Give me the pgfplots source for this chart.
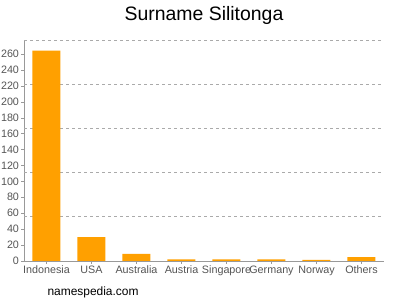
\documentclass[border=0pt]{standalone}
\usepackage{pgfplots}
\pgfplotsset{compat=1.18}
\usepackage{fontspec}
\setmainfont{Liberation Sans}
\definecolor{barorange}{HTML}{FFA000}
\definecolor{axgray}{HTML}{999999}
\definecolor{gridgray}{HTML}{AAAAAA}
\definecolor{lblgray}{HTML}{555555}
\begin{document}
\begin{tikzpicture}[x=1bp,y=1bp]
\path[use as bounding box] (0,0) rectangle (400,300);
\begin{axis}[
  at={(24bp,39bp)}, anchor=south west,
  scale only axis, width=360bp, height=221bp,
  xmin=-0.5, xmax=7.5, ymin=0, ymax=277.5,
  axis x line*=bottom, axis y line*=left,
  axis line style={axgray},
  xtick=data,
  xticklabels={Indonesia,USA,Australia,Austria,Singapore,Germany,Norway,Others},
  ytick={0,20,...,260},
  tick style={axgray},
  major tick length=3bp,
  tick align=outside,
  x tick label style={font=\fontsize{10.8}{12}\selectfont, text=lblgray, yshift=1.5bp},
  y tick label style={font=\fontsize{10.8}{12}\selectfont, text=lblgray, xshift=1.5bp},
  /pgf/number format/assume math mode=true,
  extra y ticks={55.5,111,166.5,222,277.5},
  extra y tick labels={},
  extra y tick style={grid=major, major tick length=0pt, grid style={gridgray, dash pattern=on 3bp off 3bp, line width=0.6pt}},
  ybar, bar width=28bp,
]
\addplot[fill=barorange, draw=none] coordinates {(0,264) (1,30) (2,9) (3,2) (4,2) (5,2) (6,1.5) (7,5)};
\end{axis}
\node[font=\fontsize{19.5}{22}\selectfont] at (204,285) {Surname Silitonga};
\node[font=\fontsize{12}{14}\selectfont, anchor=west] at (44,8) {namespedia.com};
\end{tikzpicture}
\end{document}
